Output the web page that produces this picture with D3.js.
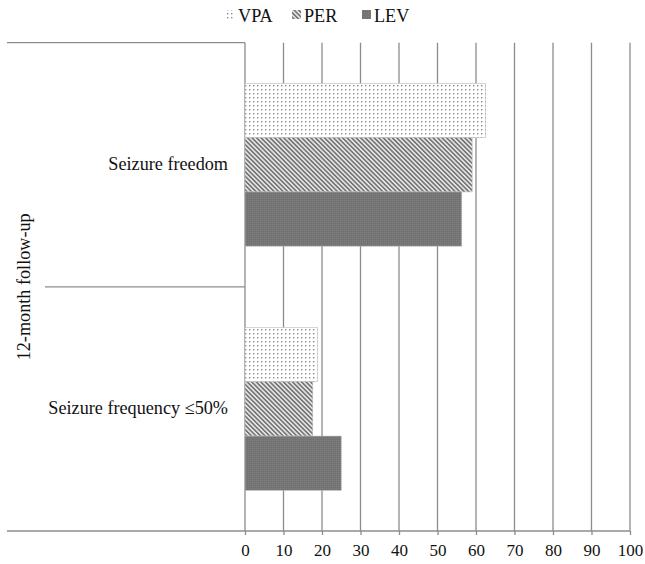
<!DOCTYPE html>
<html><head><meta charset="utf-8">
<script src="https://cdn.jsdelivr.net/npm/d3@7"></script>
<style>body{margin:0;background:#fff}svg{display:block}text{font-family:"Liberation Serif","Times New Roman",serif;fill:#111}</style>
</head><body>
<svg id="c" width="645" height="564"></svg>
<script>
const categories = ["Seizure freedom", "Seizure frequency \u226450%"];
const series = ["VPA", "PER", "LEV"];
const vpa = [62.5, 18.8];
const per = [59.0, 17.6];
const lev = [56.3, 25.0];
const xTicks = [0,10,20,30,40,50,60,70,80,90,100];
const groupLabel = "12-month follow-up";

const svg = d3.select("#c");
const defs = svg.append("defs");
// dotted pattern
const pd = defs.append("pattern").attr("id","p-vpa").attr("patternUnits","userSpaceOnUse").attr("width",4).attr("height",4);
pd.append("rect").attr("width",4).attr("height",4).attr("fill","#fff");
pd.append("rect").attr("x",1).attr("y",1).attr("width",1.4).attr("height",1.4).attr("fill","#8a8a8a");
// diagonal stripes (top-left to bottom-right)
const pp = defs.append("pattern").attr("id","p-per").attr("patternUnits","userSpaceOnUse").attr("width",3.2).attr("height",3.2).attr("patternTransform","rotate(-45)");
pp.append("rect").attr("width",3.2).attr("height",3.2).attr("fill","#e4e4e4");
pp.append("rect").attr("width",1.5).attr("height",3.2).attr("fill","#6e6e6e");
// dense dark
const pl = defs.append("pattern").attr("id","p-lev").attr("patternUnits","userSpaceOnUse").attr("width",2).attr("height",2);
pl.append("rect").attr("width",2).attr("height",2).attr("fill","#737373");
pl.append("rect").attr("width",1).attr("height",1).attr("fill","#808080");

const fills = {VPA:"url(#p-vpa)", PER:"url(#p-per)", LEV:"url(#p-lev)"};
const values = {VPA: vpa, PER: per, LEV: lev};

const x = d3.scaleLinear().domain([0,100]).range([245,630]);
const plotTop = 42.7, plotBottom = 531;
const y0 = d3.scaleBand().domain(categories).range([plotTop,plotBottom]).paddingInner(0).paddingOuter(0);
const y1 = d3.scaleBand().domain(series).range([0,y0.bandwidth()]).paddingInner(0).paddingOuter(0.75);

const gridColor = "#8c8c8c";
// gridlines
svg.append("g").selectAll("line").data(xTicks).join("line")
  .attr("x1",d=>x(d)).attr("x2",d=>x(d)).attr("y1",plotTop).attr("y2",plotBottom)
  .attr("stroke",gridColor).attr("stroke-width",1.3);

// bars
const rows = [];
categories.forEach((c,i)=>series.forEach(s=>rows.push({c,s,v:values[s][i]})));
svg.append("g").selectAll("rect").data(rows).join("rect")
  .attr("x",x(0)).attr("y",d=>y0(d.c)+y1(d.s))
  .attr("width",d=>x(d.v)-x(0)).attr("height",y1.bandwidth())
  .attr("fill",d=>fills[d.s]).attr("stroke","#bbb").attr("stroke-width",0.6);

// axis
const ax = svg.append("g").attr("transform",`translate(0,${plotBottom})`)
  .call(d3.axisBottom(x).tickValues(xTicks).tickSize(4).tickPadding(9).tickFormat(d3.format("d")));
ax.select(".domain").remove();
ax.selectAll("line").attr("stroke",gridColor).attr("stroke-width",1.3);
ax.selectAll("text").attr("font-size",17).style("font-family","Liberation Serif, serif").attr("fill","#111");

// frame lines
svg.append("line").attr("x1",7).attr("x2",x(0)).attr("y1",plotTop).attr("y2",plotTop).attr("stroke",gridColor).attr("stroke-width",1.3);
svg.append("line").attr("x1",45).attr("x2",x(0)).attr("y1",y0(categories[1])).attr("y2",y0(categories[1])).attr("stroke",gridColor).attr("stroke-width",1.3);
svg.append("line").attr("x1",7).attr("x2",x(100)).attr("y1",plotBottom).attr("y2",plotBottom).attr("stroke",gridColor).attr("stroke-width",1.3);

// category labels
svg.append("g").selectAll("text").data(categories).join("text")
  .attr("x",228).attr("y",d=>y0(d)+y0.bandwidth()/2+5)
  .attr("text-anchor","end").attr("font-size",18.2).text(d=>d);

// group label
svg.append("text").attr("transform",`translate(30,${(plotTop+plotBottom)/2}) rotate(-90)`)
  .attr("text-anchor","middle").attr("font-size",18.2).text(groupLabel);

// legend
const legX = [226, 292, 362];
const lg = svg.append("g").selectAll("g").data(series).join("g")
  .attr("transform",(d,i)=>`translate(${legX[i]},0)`);
lg.append("rect").attr("x",0).attr("y",10).attr("width",9).attr("height",9).attr("fill",d=>fills[d]);
lg.append("text").attr("x",12).attr("y",22).attr("font-size",18.2).text(d=>d);
</script>
</body></html>
